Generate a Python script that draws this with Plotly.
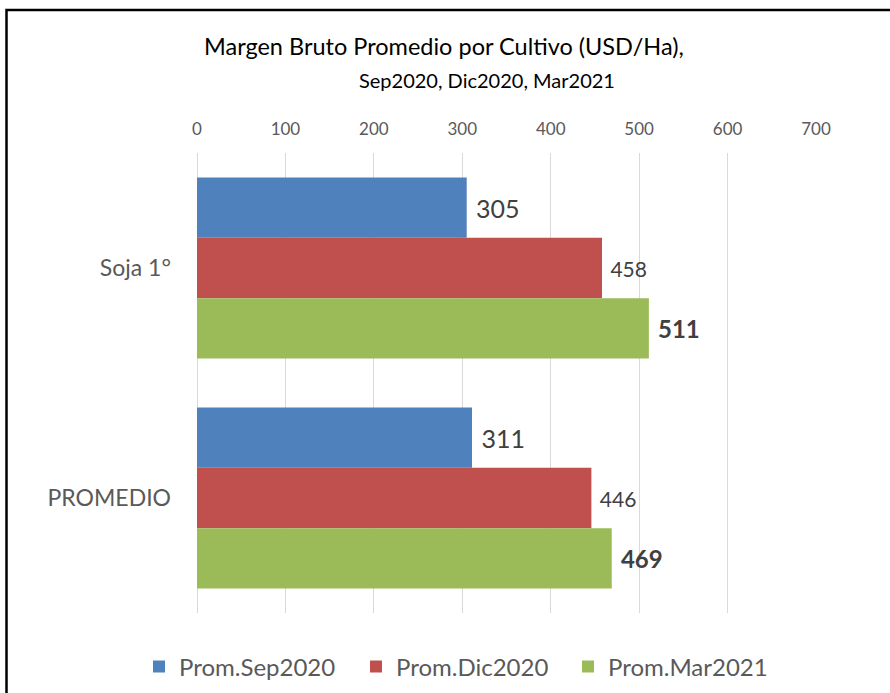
import plotly.graph_objects as go

categories = ["Soja 1°", "PROMEDIO"]
series_names = ["Prom.Sep2020", "Prom.Dic2020", "Prom.Mar2021"]
sep2020 = [305, 311]
dic2020 = [458, 446]
mar2021 = [511, 469]
x_ticks = [0, 100, 200, 300, 400, 500, 600, 700]

colors = ["#4f81bd", "#c0504d", "#9bbb59"]
FONT = "Lato"

W, H = 890, 693
L, R, T, B = 197, 890 - 816, 153, 693 - 613
pw, ph = W - L - R, H - T - B


def px_x(x):
    return (x - L) / pw


def px_y(y):
    return (H - B - y) / ph


fig = go.Figure()
label_styles = [
    dict(size=25, tmpl="\u00a0%{x}"),
    dict(size=21, tmpl="\u00a0%{x}"),
    dict(size=24, tmpl="\u00a0<b>%{x}</b>"),
]
legend_ids = ["legend", "legend2", "legend3"]
legend_square_x = [153, 370, 582]

for name, vals, col, st, lg in zip(series_names, [sep2020, dic2020, mar2021], colors, label_styles, legend_ids):
    fig.add_trace(go.Bar(
        y=categories, x=vals, name=name, orientation="h",
        marker=dict(color=col, line=dict(width=0)),
        texttemplate=st["tmpl"], textposition="outside",
        textfont=dict(family=FONT, size=st["size"], color="#404040"),
        cliponaxis=False, legend=lg,
    ))

legend_common = dict(
    orientation="h", xref="container", xanchor="left",
    y=1 - 667 / H, yref="container", yanchor="middle",
    font=dict(family=FONT, size=24, color="#595959"),
    itemwidth=30, bgcolor="rgba(0,0,0,0)",
)

fig.update_layout(
    width=W, height=H,
    margin=dict(l=L, r=R, t=T, b=B, autoexpand=False),
    paper_bgcolor="white", plot_bgcolor="white",
    barmode="group", bargap=0.213, bargroupgap=0,
    font=dict(family=FONT, color="#595959"),
    xaxis=dict(
        range=[0, 700], tickvals=x_ticks, side="top",
        showgrid=True, gridcolor="#d9d9d9", gridwidth=1,
        zeroline=True, zerolinecolor="#d9d9d9", zerolinewidth=1,
        showline=False, ticks="", ticklabelstandoff=14,
        tickfont=dict(family=FONT, size=17, color="#595959"),
    ),
    yaxis=dict(
        autorange="reversed", showgrid=False, showline=False, ticks="",
        ticklabelstandoff=25,
        tickfont=dict(family=FONT, size=23, color="#595959"),
    ),
    legend=dict(x=(legend_square_x[0] - 14) / W, **legend_common),
    legend2=dict(x=(legend_square_x[1] - 14) / W, **legend_common),
    legend3=dict(x=(legend_square_x[2] - 14) / W, **legend_common),
    showlegend=True,
)

fig.add_annotation(
    text="Margen Bruto Promedio por Cultivo (USD/Ha),",
    xref="paper", yref="paper", x=px_x(444), y=px_y(46),
    xanchor="center", yanchor="middle", showarrow=False,
    font=dict(family=FONT, size=23.5, color="#000000"),
)
fig.add_annotation(
    text="Sep2020, Dic2020, Mar2021",
    xref="paper", yref="paper", x=px_x(487), y=px_y(80),
    xanchor="center", yanchor="middle", showarrow=False,
    font=dict(family=FONT, size=20, color="#000000"),
)

# outer chart border (left and top edges visible)
fig.add_shape(
    type="rect", xref="paper", yref="paper",
    x0=px_x(6.5), x1=px_x(W + 20),
    y0=px_y(H + 20), y1=px_y(10),
    line=dict(color="black", width=2.5), fillcolor="rgba(0,0,0,0)", layer="above",
)

fig.write_html(
    "out.html",
    config={"displayModeBar": False},
    post_script="document.body.style.margin='0px';",
)
